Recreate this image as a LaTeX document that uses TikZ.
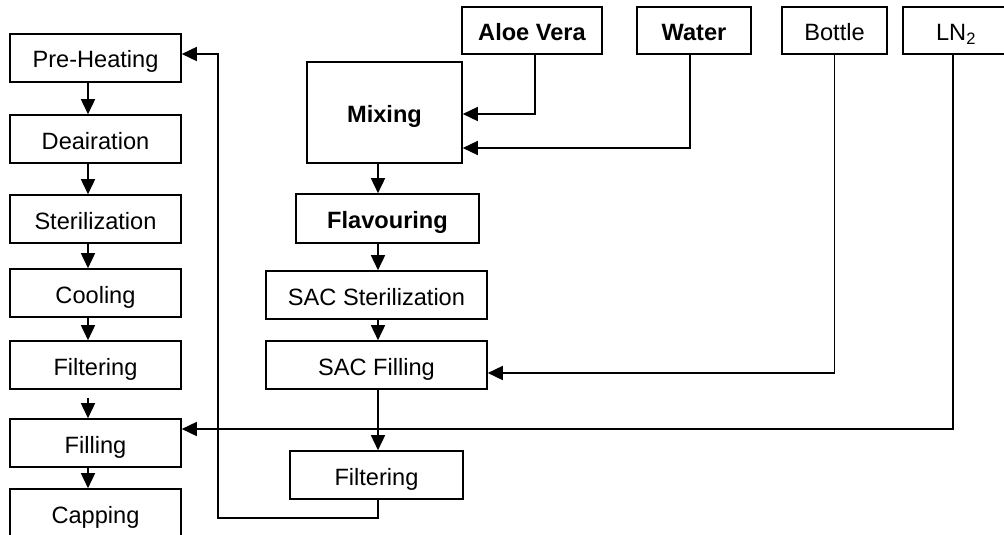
\documentclass[tikz,border=0pt]{standalone}
\usepackage{fontspec}
\setmainfont{Liberation Sans}
\usetikzlibrary{arrows.meta}

\tikzset{
  stage/.style={draw,line width=1.6pt,inner sep=0pt,minimum height=48pt,
    text height=20pt,text depth=0pt,font=\fontsize{23.6}{28}\selectfont},
  flow/.style={line width=1.6pt}
}

\begin{document}
\begin{tikzpicture}[x=1pt,y=-1pt,>={Triangle[length=15pt,width=14pt]}]
                  \useasboundingbox (0,0) rectangle (1004,535);
                  % left line
                  \node[stage,minimum width=171pt] (pre)    at (95.5,58)  {Pre-Heating};
                  \node[stage,minimum width=171pt] (deair)  at (95.5,139) {Deairation};
                  \node[stage,minimum width=171pt] (steril) at (95.5,219) {Sterilization};
                  \node[stage,minimum width=171pt] (cool)   at (95.5,293) {Cooling};
                  \node[stage,minimum width=171pt] (filt)   at (95.5,365) {Filtering};
                  \node[stage,minimum width=171pt] (fill)   at (95.5,443) {Filling};
                  \node[stage,minimum width=171pt] (cap)    at (95.5,513) {Capping};
                  % inputs
                  \node[stage,minimum width=140pt,minimum height=47pt,font=\fontsize{23.6}{28}\selectfont\bfseries] (aloe) at (532,30.5) {Aloe Vera};
                  \node[stage,minimum width=114pt,minimum height=47pt,font=\fontsize{23.6}{28}\selectfont\bfseries] (water) at (694,30.5) {Water};
                  \node[stage,minimum width=105pt,minimum height=47pt] (bottle) at (834.5,30.5) {Bottle};
                  \node[stage,minimum width=106pt,minimum height=47pt] (ln) at (956,30.5) {LN\textsubscript{2}};
                  % SAC line
                  \node[stage,minimum width=155pt,minimum height=101pt,font=\fontsize{23.6}{28}\selectfont\bfseries] (mix) at (384.5,112.5) {Mixing};
                  \node[stage,minimum width=183pt,minimum height=49pt,font=\fontsize{23.6}{28}\selectfont\bfseries] (flav) at (387.5,218.5) {Flavouring\hspace{20pt}};
                  \node[stage,minimum width=221pt] (sacst)   at (376.5,295) {SAC Sterilization};
                  \node[stage,minimum width=221pt] (sacfill) at (376.5,365) {SAC Filling};
                  \node[stage,minimum width=173pt] (filt2)   at (376.5,475) {Filtering};
                  \coordinate (lx) at (88,0);
                  \coordinate (mx) at (378,0);
                  \coordinate (fb) at (218,518);
                  \draw[flow,->] (pre.south -| lx) -- (deair.north -| lx);
                  \draw[flow,->] (deair.south -| lx) -- (steril.north -| lx);
                  \draw[flow,->] (steril.south -| lx) -- (cool.north -| lx);
                  \draw[flow,->] (cool.south -| lx) -- (filt.north -| lx);
                  \draw[flow,->] ([yshift=-8pt]filt.south -| lx) -- (fill.north -| lx);
                  \draw[flow,->] (fill.south -| lx) -- (cap.north -| lx);
                  \draw[flow,->] (mix.south -| mx) -- (flav.north -| mx);
                  \draw[flow,->] (flav.south -| mx) -- (sacst.north -| mx);
                  \draw[flow,->] (sacst.south -| mx) -- (sacfill.north -| mx);
                  \draw[flow,->] (sacfill.south -| mx) -- (filt2.north -| mx);
                  \draw[flow,->] ([xshift=3pt]aloe.south) |- ([yshift=-1.5pt]mix.east);
                  \draw[flow,->] ([xshift=-4pt]water.south) |- ([yshift=-35.5pt]mix.east);
                  \draw[flow,->] (bottle.south) |- ([yshift=-8pt]sacfill.east);
                  \draw[flow,->] ([xshift=-3pt]ln.south) |- ([yshift=14pt]fill.east);
                  \draw[flow,->] (filt2.south -| mx) |- (fb) |- ([yshift=4pt]pre.east);
              \end{tikzpicture}
\end{document}
